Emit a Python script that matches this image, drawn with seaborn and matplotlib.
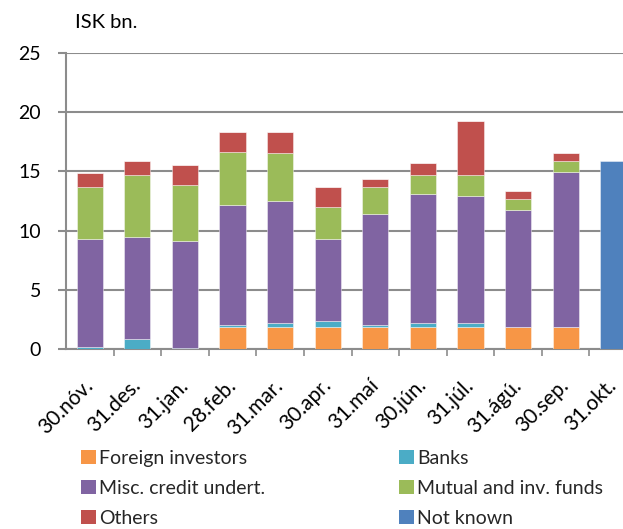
import matplotlib
matplotlib.use("Agg")
import matplotlib.pyplot as plt
import seaborn as sns
import pandas as pd
import numpy as np
from matplotlib.patches import Patch

sns.set_theme(style="white")
plt.rcParams["font.family"] = ["Lato", "DejaVu Sans"]

dates = ["30.nóv.", "31.des.", "31.jan.", "28.feb.", "31.mar.", "30.apr.",
         "31.maí", "30.jún.", "31.júl.", "31.ágú.", "30.sep.", "31.okt."]

foreign = [0.0, 0.0, 0.0, 1.88, 1.88, 1.88, 1.86, 1.86, 1.86, 1.86, 1.86, 0.0]
banks = [0.2, 0.87, 0.05, 0.17, 0.34, 0.51, 0.17, 0.34, 0.34, 0.0, 0.0, 0.0]
misc_credit = [9.06, 8.56, 9.04, 10.08, 10.25, 6.87, 9.40, 10.92, 10.75, 9.91, 13.12, 0.0]
mutual_funds = [4.42, 5.27, 4.76, 4.53, 4.05, 2.74, 2.25, 1.55, 1.72, 0.87, 0.87, 0.0]
others = [1.16, 1.15, 1.66, 1.69, 1.83, 1.66, 0.65, 1.01, 4.56, 0.70, 0.67, 0.0]
not_known = [0.0, 0.0, 0.0, 0.0, 0.0, 0.0, 0.0, 0.0, 0.0, 0.0, 0.0, 15.88]

series = [
    ("Foreign investors", foreign, "#F79646"),
    ("Banks", banks, "#4BACC6"),
    ("Misc. credit undert.", misc_credit, "#8064A2"),
    ("Mutual and inv. funds", mutual_funds, "#9BBB59"),
    ("Others", others, "#C0504D"),
    ("Not known", not_known, "#4F81BD"),
]

fig = plt.figure(figsize=(6.23, 5.29), dpi=100)
ax = fig.add_axes([66 / 623, 1 - 349 / 529, 571 / 623, 296 / 529])

bottom = np.zeros(len(dates))
for name, vals, col in series:
    df = pd.DataFrame({"date": dates, "value": vals})
    sns.barplot(data=df, x="date", y="value", order=dates, color=col,
                width=0.55, bottom=bottom.copy(), errorbar=None,
                edgecolor=(1, 1, 1, 0.5), linewidth=0.6, zorder=3,
                saturation=1, ax=ax)
    bottom += np.array(vals)

ax.set_xlim(-0.5, len(dates) - 0.5)
ax.set_ylim(0, 25)
ax.set_yticks([0, 5, 10, 15, 20, 25])
ax.yaxis.grid(True, color="#8c8c8c", linewidth=1.5, zorder=0)
ax.set_axisbelow(True)
ax.set_xlabel("")
ax.set_ylabel("")

for s in ["top", "right"]:
    ax.spines[s].set_visible(False)
ax.spines["left"].set_color("#8c8c8c")
ax.spines["left"].set_linewidth(1.5)
ax.spines["bottom"].set_color("#8c8c8c")
ax.spines["bottom"].set_linewidth(1.5)

# Category-boundary tick marks on x, outward marks on y
ax.set_xticks(np.arange(len(dates)) + 0.5, minor=True)
ax.tick_params(axis="x", which="minor", bottom=True, length=5, width=1.2,
               color="#8c8c8c")
ax.set_xticks(np.arange(len(dates)))
ax.tick_params(axis="x", which="major", bottom=False, length=0, pad=24)
ax.set_xticklabels(dates, rotation=45, ha="right", va="center",
                   rotation_mode="anchor", fontsize=15, color="black")
ax.tick_params(axis="y", left=True, length=6, width=1.5, color="#8c8c8c",
               pad=12, labelsize=14, labelcolor="black")

fig.text(75 / 623, 1 - 22 / 529, "ISK bn.", fontsize=14.5, va="center",
         ha="left", color="black")

# Two legend columns, filled row by row
handles = {n: Patch(facecolor=c, edgecolor="none") for n, _, c in series}
left_col = ["Foreign investors", "Misc. credit undert.", "Others"]
right_col = ["Banks", "Mutual and inv. funds", "Not known"]
for names, x0 in [(left_col, 81), (right_col, 399)]:
    fig.legend([handles[n] for n in names], names, loc="upper left",
               bbox_to_anchor=(x0 / 623, 1 - 450 / 529), frameon=False,
               fontsize=14.0, handlelength=0.75, handleheight=0.75,
               handletextpad=0.2, labelspacing=0.66,
               borderaxespad=0, borderpad=0)

fig.savefig("out.png", dpi=100)
